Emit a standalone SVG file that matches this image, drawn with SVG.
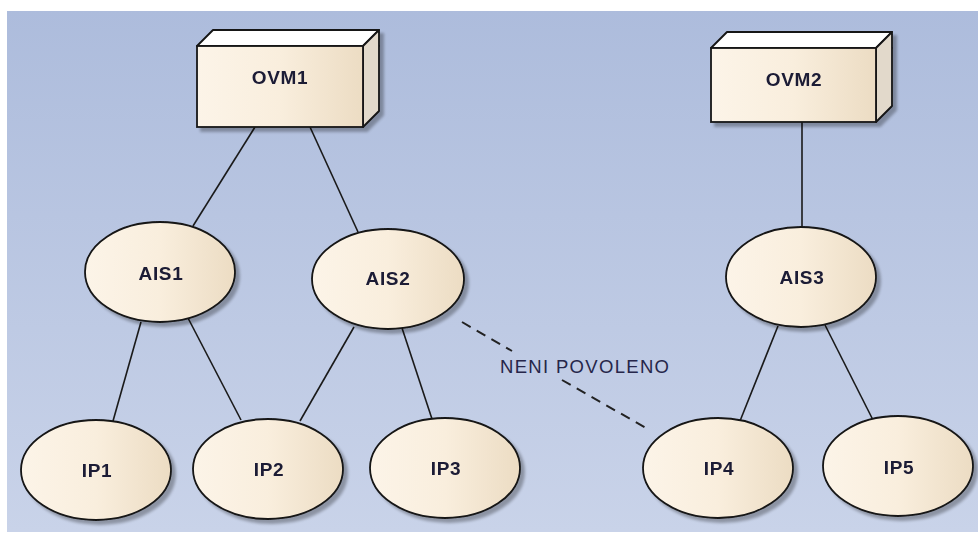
<svg xmlns="http://www.w3.org/2000/svg" width="978" height="533" viewBox="0 0 978 533">
  <defs>
    <linearGradient id="bg" x1="0" y1="0" x2="0" y2="1">
      <stop offset="0" stop-color="#adbcdc"/>
      <stop offset="1" stop-color="#c9d3e9"/>
    </linearGradient>
    <linearGradient id="cream" x1="0" y1="0" x2="1" y2="0">
      <stop offset="0" stop-color="#fcf4e8"/>
      <stop offset="0.5" stop-color="#f9eedd"/>
      <stop offset="1" stop-color="#ecdcc3"/>
    </linearGradient>
    <filter id="shadow" x="-10%" y="-10%" width="125%" height="130%">
      <feGaussianBlur in="SourceAlpha" stdDeviation="1.5"/>
      <feOffset dx="4" dy="4" result="b"/>
      <feComponentTransfer>
        <feFuncA type="linear" slope="0.3"/>
      </feComponentTransfer>
      <feMerge>
        <feMergeNode/>
        <feMergeNode in="SourceGraphic"/>
      </feMerge>
    </filter>
  </defs>
  <style>
    .shape { fill: url(#cream); stroke: #141414; stroke-width: 1.8; }
    .top { fill: #ffffff; stroke: #141414; stroke-width: 1.8; stroke-linejoin: round; }
    .side { fill: #e2d9cb; stroke: #141414; stroke-width: 1.8; stroke-linejoin: round; }
    .lbl { font-family: "Liberation Sans", Arial, sans-serif; font-weight: bold; font-size: 19px; letter-spacing: 0.7px; fill: #1a1a34; text-anchor: middle; }
    .conn line { stroke: #1a1a1a; stroke-width: 1.6; }
    .conn .dash { stroke: #222; stroke-width: 2; stroke-dasharray: 10 7; }
    .note { font-family: "Liberation Sans", Arial, sans-serif; font-size: 18.5px; fill: #26264a; }
  </style>

  <rect x="7" y="11" width="971" height="521" fill="url(#bg)"/>

  <!-- connectors -->
  <g id="connectors" class="conn">
    <line x1="255" y1="127" x2="193" y2="226"/>
    <line x1="310" y1="127" x2="358" y2="232"/>
    <line x1="802" y1="122" x2="802" y2="227"/>
    <line x1="141" y1="322" x2="113" y2="421"/>
    <line x1="188" y1="318" x2="241" y2="420"/>
    <line x1="354" y1="327" x2="300" y2="421"/>
    <line x1="402" y1="328" x2="432" y2="419"/>
    <line x1="778" y1="326" x2="740" y2="421"/>
    <line x1="825" y1="325" x2="873" y2="420"/>
    <!-- dashed link, broken around its label -->
    <line class="dash" x1="462" y1="322" x2="512" y2="351"/>
    <line class="dash" x1="562" y1="380" x2="646" y2="428"/>
    <text class="note" x="500" y="373" textLength="169" lengthAdjust="spacing">NENI POVOLENO</text>
  </g>

  <!-- nodes -->
  <g id="OVM1" filter="url(#shadow)">
    <polygon class="top" points="197,46 213,30 379,30 363,46"/>
    <polygon class="side" points="363,46 379,30 379,111 363,127"/>
    <rect class="shape" x="197" y="46" width="166" height="81"/>
    <text class="lbl" x="280" y="84">OVM1</text>
  </g>
  <g id="OVM2" filter="url(#shadow)">
    <polygon class="top" points="711,48 727,32 892,32 876,48"/>
    <polygon class="side" points="876,48 892,32 892,106 876,122"/>
    <rect class="shape" x="711" y="48" width="165" height="74"/>
    <text class="lbl" x="794" y="86">OVM2</text>
  </g>
  <g id="AIS1" filter="url(#shadow)">
    <ellipse class="shape" cx="160" cy="272" rx="75" ry="50"/>
    <text class="lbl" x="161" y="280">AIS1</text>
  </g>
  <g id="AIS2" filter="url(#shadow)">
    <ellipse class="shape" cx="388" cy="279" rx="76" ry="50"/>
    <text class="lbl" x="388" y="285">AIS2</text>
  </g>
  <g id="AIS3" filter="url(#shadow)">
    <ellipse class="shape" cx="801" cy="277" rx="75" ry="50"/>
    <text class="lbl" x="802" y="284">AIS3</text>
  </g>
  <g id="IP1" filter="url(#shadow)">
    <ellipse class="shape" cx="96" cy="470" rx="75" ry="50"/>
    <text class="lbl" x="97" y="477">IP1</text>
  </g>
  <g id="IP2" filter="url(#shadow)">
    <ellipse class="shape" cx="268" cy="469" rx="75" ry="50"/>
    <text class="lbl" x="269" y="476">IP2</text>
  </g>
  <g id="IP3" filter="url(#shadow)">
    <ellipse class="shape" cx="445" cy="468" rx="75" ry="50"/>
    <text class="lbl" x="446" y="475">IP3</text>
  </g>
  <g id="IP4" filter="url(#shadow)">
    <ellipse class="shape" cx="718" cy="468" rx="75" ry="50"/>
    <text class="lbl" x="719" y="475">IP4</text>
  </g>
  <g id="IP5" filter="url(#shadow)">
    <ellipse class="shape" cx="898" cy="466" rx="75" ry="50"/>
    <text class="lbl" x="899" y="474">IP5</text>
  </g>
</svg>
